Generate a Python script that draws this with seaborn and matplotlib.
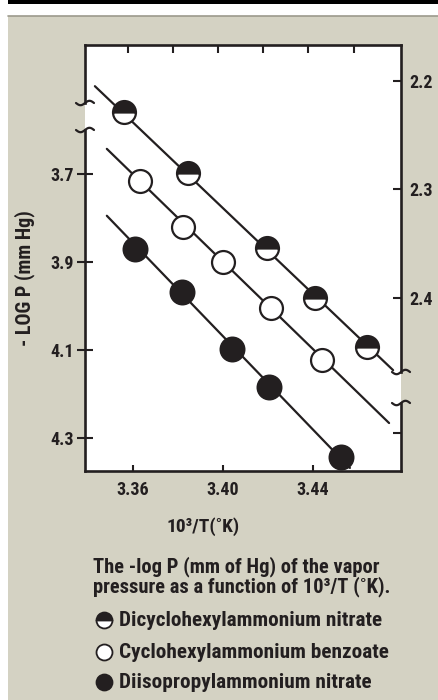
import numpy as np
import pandas as pd
import matplotlib
matplotlib.use("Agg")
import matplotlib.pyplot as plt
from matplotlib import font_manager
from matplotlib.lines import Line2D
from matplotlib.patches import Rectangle
import seaborn as sns

# ---------------- data ----------------
series_names = ["Dicyclohexylammonium nitrate",
                "Cyclohexylammonium benzoate",
                "Diisopropylammonium nitrate"]

# Dicyclohexylammonium nitrate (right axis, -log P)
dicy_x = [3.356, 3.3844, 3.4196, 3.4409, 3.464]
dicy_y = [2.229, 2.285, 2.354, 2.400, 2.446]
dicy_line_x = [3.3431, 3.4756]
dicy_line_y = [2.205, 2.467]

# Cyclohexylammonium benzoate (left axis)
cyc_x = [3.3631, 3.3822, 3.4000, 3.4213, 3.4440]
cyc_y = [3.716, 3.820, 3.900, 4.005, 4.123]
cyc_line_x = [3.3484, 3.4738]
cyc_line_y = [3.643, 4.266]

# Diisopropylammonium nitrate (left axis)
dii_x = [3.3609, 3.3818, 3.4040, 3.4204, 3.4524]
dii_y = [3.870, 3.968, 4.098, 4.184, 4.343]
dii_line_x = [3.3484, 3.4564]
dii_line_y = [3.795, 4.368]

x_ticks = [3.36, 3.40, 3.44]
x_tick_labels = ["3.36", "3.40", "3.44"]
top_ticks = [3.358, 3.378, 3.398, 3.418, 3.438, 3.458]
left_ticks = [3.7, 3.9, 4.1, 4.3]
left_tick_labels = ["3.7", "3.9", "4.1", "4.3"]
right_ticks = [2.2, 2.3, 2.4, 2.525]
right_tick_labels = ["2.2", "2.3", "2.4", ""]

x_label = "10³/T(˚K)"
y_label = "- LOG P (mm Hg)"
caption = "The -log P (mm of Hg) of the vapor\npressure as a function of 10³/T (˚K)."

# ---------------- style ----------------
sns.set_style("white")
entries = font_manager.fontManager.ttflist
names = {f.name for f in entries}
stretch = "normal"
fam = None
for cand in ["Liberation Sans Narrow", "Roboto Condensed", "Open Sans Condensed",
             "Noto Sans Condensed", "DejaVu Sans Condensed"]:
    if cand in names:
        fam = cand
        break
if fam is None:
    for f in entries:
        if ("Condensed" in f.name or "Narrow" in f.name) and "Mono" not in f.name and "Serif" not in f.name:
            fam = f.name
            break
if fam is None:
    for f in entries:
        if f.name in ("DejaVu Sans", "Roboto", "Noto Sans") and "condensed" in str(f.stretch):
            fam = f.name
            stretch = "condensed"
            break
if fam is None:
    fam = "DejaVu Sans"
    stretch = "normal"
plt.rcParams["font.family"] = [fam, "DejaVu Sans"]
plt.rcParams["font.weight"] = "bold"
plt.rcParams["font.stretch"] = stretch
narrow = fam != "DejaVu Sans" or stretch == "condensed"
k = 1.0 if narrow else 0.85
FS_TICK = 13 * k
FS_XL = 14 * k
FS_YL = 14.5 * k
FS_CAP = 14.8 * k
FS_LEG = 15.3 * k

INK = "#231f20"
BEIGE = "#d4d2c3"
W, H = 438, 700

fig = plt.figure(figsize=(W / 100, H / 100), dpi=100, facecolor="white")

def fx(px):
    return px / W

def fy(py):
    return 1 - py / H

# background panel
fig.add_artist(Rectangle((fx(8), 0), 1 - fx(8), fy(16), transform=fig.transFigure,
                         facecolor=BEIGE, edgecolor="none", zorder=0))
fig.add_artist(Rectangle((fx(8), fy(4)), 1 - fx(8), fy(0) - fy(4), transform=fig.transFigure,
                         facecolor="black", edgecolor="none", zorder=0))
fig.add_artist(Line2D([fx(8), 1], [fy(15.5), fy(15.5)], transform=fig.transFigure,
                      color="#9c9a8c", lw=1.2, zorder=1))

L, R, T, B = 85, 401, 45, 471
ax = fig.add_axes([fx(L), fy(B), fx(R) - fx(L), fy(T) - fy(B)])
ax.set_facecolor("white")
ax.set_xlim(3.3387, 3.4791)
ax.set_ylim(4.375, 3.407)
ax2 = ax.twinx()
ax2.set_ylim(2.560, 2.167)

# lines
df_cyc_line = pd.DataFrame({"x": cyc_line_x, "y": cyc_line_y})
df_dii_line = pd.DataFrame({"x": dii_line_x, "y": dii_line_y})
df_dicy_line = pd.DataFrame({"x": dicy_line_x, "y": dicy_line_y})
sns.lineplot(data=df_cyc_line, x="x", y="y", ax=ax, color=INK, lw=1.6, zorder=2)
sns.lineplot(data=df_dii_line, x="x", y="y", ax=ax, color=INK, lw=1.6, zorder=2)
sns.lineplot(data=df_dicy_line, x="x", y="y", ax=ax2, color=INK, lw=1.6, zorder=2)

# markers
ax.plot(cyc_x, cyc_y, ls="none", marker="o", ms=16.5, mfc="white", mec=INK, mew=1.6,
        zorder=3, clip_on=False)
ax.plot(dii_x, dii_y, ls="none", marker="o", ms=17.5, mfc=INK, mec=INK, mew=1.2,
        zorder=3, clip_on=False)
ax2.plot(dicy_x, dicy_y, ls="none", marker="o", ms=16.5, fillstyle="top", mfc=INK,
         markerfacecoloralt="white", mec=INK, mew=1.6, zorder=3, clip_on=False)

# spines
for a in (ax, ax2):
    for s in a.spines.values():
        s.set_visible(False)
sw = 1.9
tr = ax.transAxes
gl_lo, gl_hi = (B - 130) / (B - T), (B - 103) / (B - T)
gr_lo, gr_hi = (B - 403) / (B - T), (B - 372) / (B - T)
for xs, ys in [([0, 1], [0, 0]), ([0, 1], [1, 1]), ([0, 0], [0, gl_lo]), ([0, 0], [gl_hi, 1]),
               ([1, 1], [0, gr_lo]), ([1, 1], [gr_hi, 1])]:
    ax.plot(xs, ys, transform=tr, color=INK, lw=sw, clip_on=False, zorder=5,
            solid_capstyle="projecting")

# break tildes
t = np.linspace(-1, 1, 40)
hw = 9 / (R - L)
amp = 2.2 / (B - T)
for xc, yc in [(0, gl_lo), (0, gl_hi), (1, gr_lo), (1, gr_hi)]:
    ax.plot(xc + t * hw, yc + amp * np.sin(np.pi * t), transform=tr, color=INK, lw=1.6,
            clip_on=False, zorder=6)

# ticks
ax.set_xticks(x_ticks)
ax.set_xticklabels(x_tick_labels)
ax.set_yticks(left_ticks)
ax.set_yticklabels(left_tick_labels)
ax2.set_yticks(right_ticks)
ax2.set_yticklabels(right_tick_labels)
ax.tick_params(axis="x", direction="in", length=4.5, width=1.5, color=INK, pad=7,
               labelsize=FS_TICK, labelcolor=INK, bottom=True)
ax.tick_params(axis="y", direction="inout", length=12, width=1.5, color=INK, pad=2,
               labelsize=FS_TICK, labelcolor=INK, left=True)
ax2.tick_params(axis="y", direction="in", length=6, width=1.5, color=INK, pad=6,
                labelsize=FS_TICK, labelcolor=INK, right=True)
sec = ax.secondary_xaxis("top")
sec.set_xticks(top_ticks)
sec.set_xticklabels([""] * len(top_ticks))
sec.tick_params(direction="in", length=6, width=1.5, color=INK)
for s in sec.spines.values():
    s.set_visible(False)
for lab in ax.get_xticklabels() + ax.get_yticklabels() + ax2.get_yticklabels():
    lab.set_fontweight("bold")
    lab.set_fontstretch(stretch)
ax.set_xlabel("")
ax.set_ylabel("")
ax2.set_ylabel("")

# labels
tk = dict(fontweight="bold", color=INK, fontstretch=stretch)
fig.text(fx(25), fy(278), y_label, rotation=90, ha="center", va="center", fontsize=FS_YL, **tk)
fig.text(fx(203), fy(527), x_label, ha="center", va="center", fontsize=FS_XL, **tk)
fig.text(fx(93), fy(577), caption, ha="left", va="center", linespacing=0.95,
         fontsize=FS_CAP, **tk)

# legend
leg_y = [620, 652, 682]
styles = [dict(mfc=INK, fillstyle="top", markerfacecoloralt="white"),
          dict(mfc="white"),
          dict(mfc=INK)]
for name, yy, st in zip(series_names, leg_y, styles):
    fig.add_artist(Line2D([fx(104)], [fy(yy)], transform=fig.transFigure, ls="none",
                          marker="o", ms=11.5, mec=INK, mew=1.3, **st))
    fig.text(fx(119), fy(yy), name, ha="left", va="center", fontsize=FS_LEG, **tk)

fig.savefig("out.png", dpi=100, facecolor="white")
